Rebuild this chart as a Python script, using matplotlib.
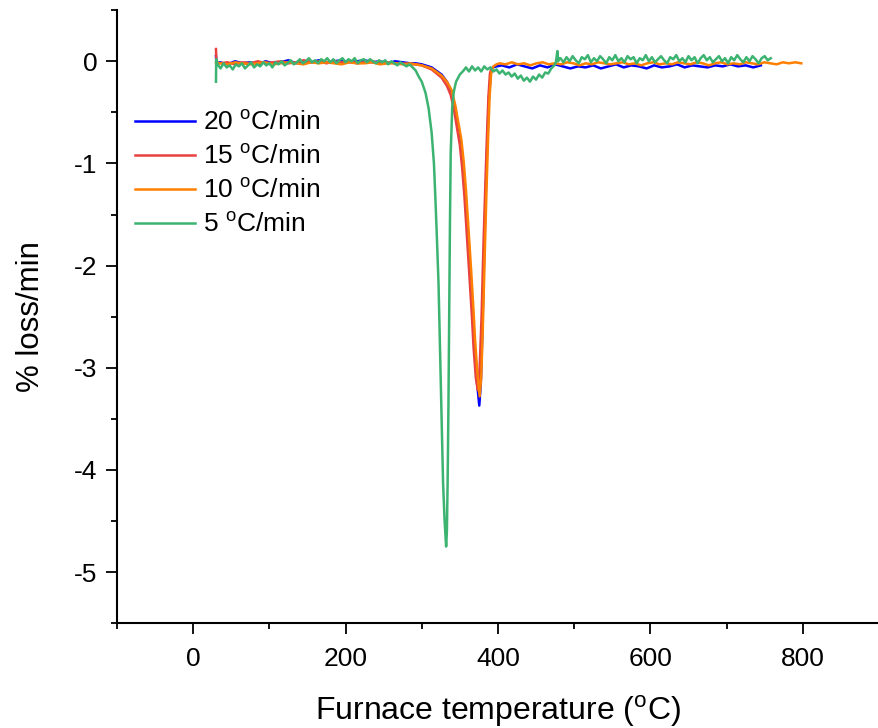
import numpy as np
import matplotlib
matplotlib.use("Agg")
from matplotlib import pyplot as plt
from matplotlib.ticker import MultipleLocator

plt.rcParams['font.family'] = ['Liberation Sans', 'DejaVu Sans']
plt.rcParams['mathtext.fontset'] = 'custom'
plt.rcParams['mathtext.rm'] = 'Liberation Sans'
plt.rcParams['axes.unicode_minus'] = False

labels = [r'20 $^{\rm o}$C/min', r'15 $^{\rm o}$C/min',
          r'10 $^{\rm o}$C/min', r'5 $^{\rm o}$C/min']
colors = ['#0000ff', '#e8413f', '#ff7f00', '#3cb371']

# ---- 20 C/min (blue)
blue_start_T = [30, 30.5]
blue_start_v = [0.05, -0.02]
blue_flat1_v = [-0.01, -0.03, 0.00, -0.02, -0.01, -0.03, 0.00, -0.02, -0.01, 0.01,
                -0.02, 0.00, -0.01, 0.01, -0.01, 0.00, 0.01, -0.01, 0.00, 0.01,
                -0.01, 0.00, -0.02, 0.00, -0.01, -0.02]          # 35..285 step 10
blue_peak_T = [292, 300, 313, 326, 333, 339, 343, 347, 351, 354, 357, 360, 364,
               367, 369, 372, 375.5, 377.5, 379.5, 382, 384, 386, 388, 390.5, 393, 398]
blue_peak_v = [-0.02, -0.03, -0.06, -0.13, -0.2, -0.3, -0.43, -0.6, -0.8, -1.02,
               -1.3, -1.65, -2.12, -2.5, -2.78, -3.1, -3.37, -3.15, -2.65, -1.85,
               -1.3, -0.8, -0.38, -0.12, -0.06, -0.05]
blue_flat2_v = [-0.04, -0.06, -0.03, -0.05, -0.07, -0.04, -0.06, -0.03, -0.05, -0.07,
                -0.05, -0.06, -0.04, -0.07, -0.05, -0.03, -0.06, -0.04, -0.05, -0.07,
                -0.04, -0.06, -0.05, -0.03, -0.06, -0.04, -0.05, -0.06, -0.04, -0.05,
                -0.03, -0.05, -0.04, -0.06, -0.04]              # 405..745 step 10

# ---- 15 C/min (red)
red_start_T = [30, 30.5]
red_start_v = [0.12, -0.01]
red_flat1_v = [-0.02, -0.01, -0.03, -0.01, -0.02, 0.00, -0.02, -0.01, 0.00, -0.02,
               -0.01, 0.01, -0.01, 0.00, -0.02, 0.00, -0.01, 0.00, -0.02, -0.01,
               0.00, -0.02, -0.01, -0.02, -0.02, -0.03]          # 35..285 step 10
red_peak_T = [292, 300, 313, 326, 333, 338, 342, 346, 350, 353, 356, 359, 363, 366,
              368, 371, 373.5, 376, 378.5, 381, 383.5, 385.5, 387.5, 389.5, 391]
red_peak_v = [-0.03, -0.04, -0.08, -0.16, -0.24, -0.33, -0.46, -0.64, -0.82, -1.04,
              -1.32, -1.68, -2.15, -2.52, -2.8, -3.1, -3.22, -3.0, -2.5, -1.8,
              -1.2, -0.75, -0.35, -0.12, -0.08]

# ---- 10 C/min (orange)
orange_start_T = [30]
orange_start_v = [-0.01]
orange_flat1_v = [-0.02, -0.03, -0.01, -0.02, -0.03, -0.02, -0.01, -0.03, -0.02, -0.01,
                  -0.02, -0.03, -0.01, -0.02, -0.01, -0.02, -0.03, -0.01, -0.02, -0.02,
                  -0.01, -0.03, -0.02, -0.02, -0.03, -0.02]      # 35..285 step 10
orange_peak_T = [292, 300, 313, 326, 333, 339, 344, 348, 352, 355, 358, 361, 365,
                 368, 370, 373, 376, 378, 380, 383, 385, 387, 389, 391, 394, 398]
orange_peak_v = [-0.03, -0.04, -0.07, -0.14, -0.2, -0.28, -0.43, -0.6, -0.77, -0.98,
                 -1.26, -1.6, -2.07, -2.45, -2.73, -3.05, -3.28, -3.1, -2.65, -1.8,
                 -1.25, -0.77, -0.35, -0.12, -0.05, -0.03]
orange_flat2_v = [-0.02, -0.03, -0.01, -0.03, -0.02, -0.04, -0.02, -0.01, -0.03, -0.02,
                  -0.03, -0.01, -0.02, -0.04, -0.02, -0.03, -0.01, -0.02, -0.03, -0.02,
                  -0.01, -0.03, -0.02, -0.04, -0.02, -0.01, -0.03, -0.02, -0.03, -0.01,
                  -0.02, -0.03, -0.01, -0.02, -0.04, -0.02, -0.01, -0.03, -0.02, -0.03,
                  -0.01, -0.02, -0.03, -0.01, -0.02, -0.03, -0.01, -0.02, -0.01, -0.02]  # 402..798

# ---- 5 C/min (green)
green_start_T = [30, 30.3]
green_start_v = [-0.20, 0.02]
green_flat1_v = [-0.03, -0.07, -0.02, -0.06, -0.04, -0.08, -0.03, -0.05, -0.02, -0.07,
                 -0.04, -0.01, -0.06, -0.03, -0.05, -0.01, -0.04, -0.02, -0.06, -0.01,
                 -0.03, 0.00, -0.04, -0.02, 0.01, -0.03, -0.01, 0.02, -0.02, 0.00,
                 0.03, -0.01, 0.01, -0.02, 0.02, 0.00, 0.03, -0.01, 0.02, -0.02,
                 0.01, 0.03, -0.01, 0.02, 0.00, 0.03, -0.02, 0.01, 0.02, -0.01,
                 0.02, 0.00, -0.02, 0.01, -0.01, 0.01, -0.03, 0.00, -0.02, -0.04,
                 -0.01, -0.03, -0.05, -0.03, -0.06]              # 32..288 step 4
green_peak_T = [292, 296, 300, 305, 309, 313, 316, 318, 320, 322, 325, 328, 330, 332,
                333, 334, 335, 336, 337, 338, 340, 342, 345, 350, 355]
green_peak_v = [-0.09, -0.15, -0.2, -0.31, -0.46, -0.7, -1.0, -1.36, -1.75, -2.17,
                -3.15, -4.13, -4.5, -4.75, -4.6, -4.1, -3.4, -2.5, -1.6, -0.9,
                -0.45, -0.3, -0.2, -0.13, -0.09]
green_mid_v = [-0.06, -0.10, -0.05, -0.09, -0.06, -0.10, -0.05, -0.08, -0.06, -0.10,
               -0.08, -0.12, -0.09, -0.13, -0.11, -0.15, -0.12, -0.17, -0.14, -0.19,
               -0.16, -0.20, -0.15, -0.18, -0.13, -0.16, -0.11, -0.12, -0.07, -0.04]  # 358..474
green_jump_T = [476, 478, 479, 480]
green_jump_v = [-0.01, 0.10, 0.00, 0.03]
green_tail_v = [0.03, -0.01, 0.04, 0.00, 0.05, 0.01, -0.02, 0.04, 0.02, 0.06,
                -0.01, 0.03, 0.00, 0.05, 0.02, -0.02, 0.04, 0.01, 0.06, 0.00,
                0.03, -0.01, 0.05, 0.02, 0.04, -0.02, 0.03, 0.01, 0.06, 0.00,
                0.04, -0.01, 0.02, 0.05, 0.01, -0.02, 0.04, 0.02, 0.06, 0.00,
                0.03, -0.01, 0.05, 0.01, 0.04, -0.02, 0.03, 0.06, 0.01, 0.04,
                -0.01, 0.02, 0.05, 0.00, 0.03, -0.02, 0.04, 0.01, 0.06, 0.02,
                -0.01, 0.04, 0.00, 0.05, 0.02, -0.02, 0.03, 0.05, 0.01, 0.03]  # 482..758


def grid(a, b, vals):
    return np.linspace(a, b, len(vals))


blue_T = np.concatenate([blue_start_T, grid(35, 285, blue_flat1_v), blue_peak_T,
                         grid(405, 745, blue_flat2_v)])
blue_v = np.concatenate([blue_start_v, blue_flat1_v, blue_peak_v, blue_flat2_v])
red_T = np.concatenate([red_start_T, grid(35, 285, red_flat1_v), red_peak_T])
red_v = np.concatenate([red_start_v, red_flat1_v, red_peak_v])
orange_T = np.concatenate([orange_start_T, grid(35, 285, orange_flat1_v), orange_peak_T,
                           grid(402, 798, orange_flat2_v)])
orange_v = np.concatenate([orange_start_v, orange_flat1_v, orange_peak_v, orange_flat2_v])
green_T = np.concatenate([green_start_T, grid(32, 288, green_flat1_v), green_peak_T,
                          grid(358, 474, green_mid_v), green_jump_T,
                          grid(482, 758, green_tail_v)])
green_v = np.concatenate([green_start_v, green_flat1_v, green_peak_v, green_mid_v,
                          green_jump_v, green_tail_v])

fig = plt.figure(figsize=(8.79, 7.28), dpi=100)
ax = fig.add_axes([0.133, 0.144, 0.867, 0.842])

series = [(blue_T, blue_v), (red_T, red_v), (orange_T, orange_v), (green_T, green_v)]
for (t, v), c, lab in zip(series, colors, labels):
    ax.plot(t, v, color=c, lw=1.8, label=lab)

ax.set_xlim(-100, 900)
ax.set_ylim(-5.5, 0.5)
ax.xaxis.set_major_locator(MultipleLocator(200))
ax.xaxis.set_minor_locator(MultipleLocator(100))
ax.yaxis.set_major_locator(MultipleLocator(1))
ax.yaxis.set_minor_locator(MultipleLocator(0.5))
ax.set_xticks([0, 200, 400, 600, 800])

for s in ['top', 'right']:
    ax.spines[s].set_visible(False)
for s in ['left', 'bottom']:
    ax.spines[s].set_linewidth(1.5)
ax.tick_params(which='major', direction='out', length=8, width=1.3, labelsize=19)
ax.tick_params(which='minor', direction='out', length=4, width=1.3)
ax.tick_params(axis='x', which='major', pad=9)
ax.tick_params(axis='y', which='major', pad=6)

ax.set_xlabel(r'Furnace temperature ($^{\rm o}$C)', fontsize=23, labelpad=16)
ax.set_ylabel('% loss/min', fontsize=22.5, labelpad=20)

ax.legend(loc='upper left', bbox_to_anchor=(-0.008, 0.875), frameon=False, fontsize=19,
          handlelength=2.3, handletextpad=0.3, labelspacing=0.35, borderaxespad=0.5)

fig.savefig('out.png', dpi=100)
